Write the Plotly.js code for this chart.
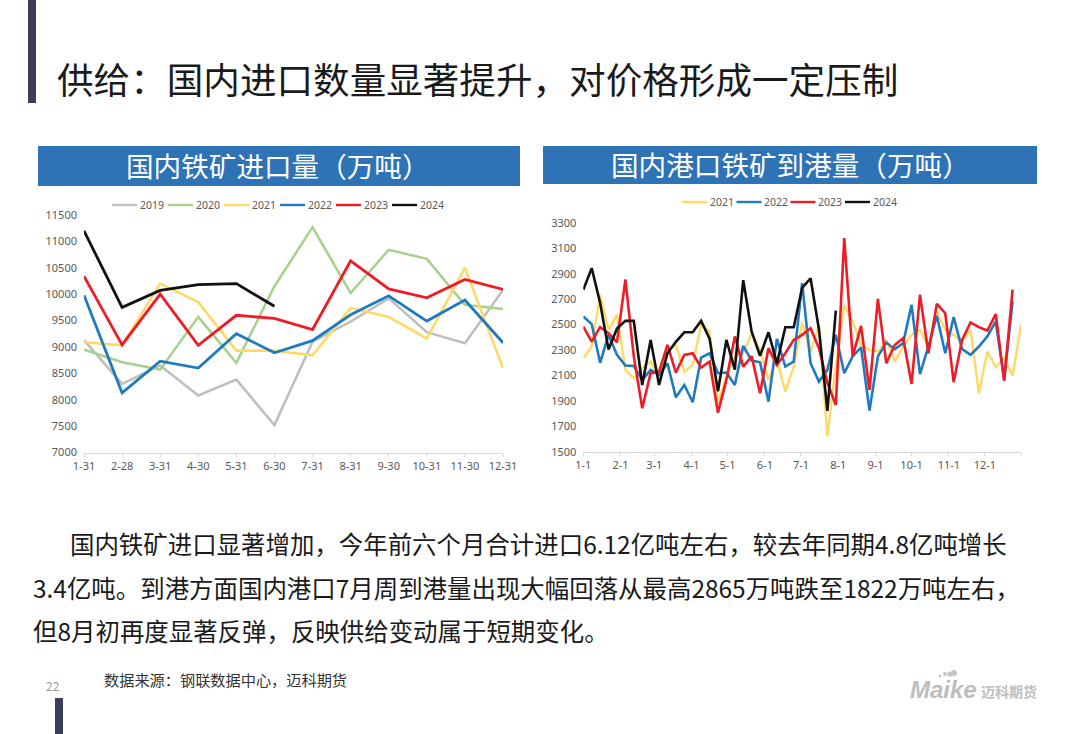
<!DOCTYPE html>
<html><head><meta charset="utf-8">
<script src="https://cdn.plot.ly/plotly-3.0.1.min.js"></script>
<style>html,body{margin:0;padding:0;background:#fff}#c{width:1080px;height:734px}</style>
</head><body><div id="c"></div>
<script>
// ---------- left chart: monthly imports ----------
const monthLabels = ['1-31','2-28','3-31','4-30','5-31','6-30','7-31','8-31','9-30','10-31','11-30','12-31'];
const imp2019 = [9130,8300,8650,8080,8380,7520,9100,9480,9920,9280,9070,10080];
const imp2020 = [8950,8710,8570,9570,8700,10150,11270,10020,10840,10670,9800,9720];
const imp2021 = [9090,9030,10200,9850,8930,8930,8840,9740,9570,9160,10500,8600];
const imp2022 = [9980,8130,8730,8600,9250,8890,9120,9610,9970,9490,9890,9080];
const imp2023 = [10340,9040,10000,9030,9600,9540,9330,10630,10100,9930,10280,10090];
const imp2024 = [11200,9750,10070,10180,10200,9770];
// ---------- right chart: weekly arrivals ----------
const arr2021 = [2236,2328,2735,2460,2577,2144,2078,2157,2210,2078,2300,2340,2130,2183,2499,2446,1880,2090,2250,2275,2433,2300,2065,2223,1973,2170,2512,2288,2499,1623,2170,2656,2525,2340,2300,2288,2380,2210,2328,2420,2459,2328,2604,2459,2420,2367,2459,1960,2288,2165,2236,2097,2499];
const arr2022 = [2564,2504,2200,2420,2262,2178,2175,2065,2144,2105,2196,1928,2025,1889,2241,2275,2118,2123,2025,2333,2217,2204,1894,2388,2170,2210,2827,2196,2052,2144,2420,2118,2250,2322,1823,2250,2359,2307,2354,2656,2110,2328,2570,2275,2559,2307,2262,2328,2407,2525,2065,2683];
const arr2023 = [2485,2367,2480,2433,2360,2855,2250,1842,2118,2130,2340,2123,2262,2275,2162,2210,1807,2065,2407,2170,2250,1960,2315,2183,2275,2380,2420,2472,2315,2040,1868,3182,2250,2490,1986,2703,2196,2340,2393,2033,2735,2275,2664,2590,2047,2380,2517,2480,2454,2583,2057,2775];
const arr2024 = [2775,2945,2670,2305,2470,2530,2530,2025,2380,2025,2275,2365,2440,2440,2530,2390,1975,2380,2145,2850,2445,2255,2440,2195,2480,2480,2790,2865,2460,1822,2610];
const weekDates = arr2021.map((_, i) => new Date(Date.UTC(2021, 0, 1 + 7 * i)).toISOString().slice(0, 10));
const weekTickVals = ['2021-01-01','2021-02-01','2021-03-01','2021-04-01','2021-05-01','2021-06-01','2021-07-01','2021-08-01','2021-09-01','2021-10-01','2021-11-01','2021-12-01','2021-12-31'];
const weekTickText = ['1-1','2-1','3-1','4-1','5-1','6-1','7-1','8-1','9-1','10-1','11-1','12-1',''];

const colors = {y2019:'#BFBFBF', y2020:'#A9D18E', y2021:'#FFD966', y2022:'#1F7ABF', y2023:'#EE1C25', y2024:'#111111'};
const W = 1080, H = 734;
const px = v => v / W, py = v => 1 - v / H;
const cjk = '"Noto Sans CJK SC","Noto Sans",sans-serif';

function line(x, y, name, col, xa, ya, w) {
  return {x, y, name, type:'scatter', mode:'lines', xaxis:xa, yaxis:ya, showlegend:false,
          line:{color:col, width:w, shape:'linear'}, hoverinfo:'skip'};
}
const traces = [
  line(monthLabels, imp2019, '2019', colors.y2019, 'x', 'y', 2.6),
  line(monthLabels, imp2020, '2020', colors.y2020, 'x', 'y', 2.6),
  line(monthLabels, imp2021, '2021', colors.y2021, 'x', 'y', 2.6),
  line(monthLabels, imp2022, '2022', colors.y2022, 'x', 'y', 2.8),
  line(monthLabels, imp2023, '2023', colors.y2023, 'x', 'y', 2.8),
  line(monthLabels, imp2024, '2024', colors.y2024, 'x', 'y', 2.8),
  line(weekDates, arr2021, '2021', colors.y2021, 'x2', 'y2', 2.4),
  line(weekDates, arr2022, '2022', colors.y2022, 'x2', 'y2', 2.6),
  line(weekDates, arr2023, '2023', colors.y2023, 'x2', 'y2', 2.6),
  line(weekDates, arr2024, '2024', colors.y2024, 'x2', 'y2', 2.6)
];

const tickFont = {family:'"Noto Sans",sans-serif', size:11, color:'#595959'};
const xCommon = {showgrid:false, zeroline:false, showline:true, linecolor:'#D9D9D9', linewidth:1,
                 ticks:'outside', ticklen:3, tickcolor:'#D9D9D9', tickfont:tickFont, tickangle:0};
const yCommon = {showgrid:false, zeroline:false, showline:false, ticks:'', tickfont:tickFont, tickformat:'d', ticklabelstandoff:6};

function text(x, y, t, size, color, anchor, extra) {
  return Object.assign({xref:'paper', yref:'paper', x:px(x), y:py(y), text:t, showarrow:false,
    xanchor:anchor || 'left', yanchor:'middle', font:{family:cjk, size, color}, align:'left'}, extra || {});
}
function rect(x0, y0, x1, y1, col) {
  return {type:'rect', xref:'paper', yref:'paper', x0:px(x0), x1:px(x1), y0:py(y0), y1:py(y1),
          fillcolor:col, line:{width:0}, layer:'below'};
}
function dot(cx, cy, r, col) {
  return {type:'circle', xref:'paper', yref:'paper', x0:px(cx-r), x1:px(cx+r), y0:py(cy+r), y1:py(cy-r),
          fillcolor:col, line:{width:0}, layer:'below'};
}
// compact legend keys: the reference's keys are shorter than Plotly's 30px minimum
const legendShapes = [], legendTexts = [];
function key(x0, y, name, col, w) {
  legendShapes.push({type:'line', xref:'paper', yref:'paper', x0:px(x0), x1:px(x0+25), y0:py(y), y1:py(y),
                     line:{color:col, width:w}});
  legendTexts.push(text(x0+25.5, y, name, 10.5, '#595959', 'left', {font:{family:'"Noto Sans",sans-serif', size:10.5, color:'#595959'}}));
}
[['2019',colors.y2019,112],['2020',colors.y2020,168],['2021',colors.y2021,224],['2022',colors.y2022,280],['2023',colors.y2023,336],['2024',colors.y2024,392]]
  .forEach(k => key(k[2], 205, k[0], k[1], 2.4));
[['2021',colors.y2021,682],['2022',colors.y2022,736.5],['2023',colors.y2023,790.5],['2024',colors.y2024,845]]
  .forEach(k => key(k[2], 202, k[0], k[1], 2.4));

const layout = {
  width:W, height:H, margin:{l:0,r:0,t:0,b:0}, paper_bgcolor:'#fff', plot_bgcolor:'rgba(0,0,0,0)', showlegend:false,
  xaxis:Object.assign({}, xCommon, {domain:[px(84), px(503)], anchor:'y', type:'category', range:[0,11],
        tickmode:'array', tickvals:monthLabels, ticktext:monthLabels}),
  yaxis:Object.assign({}, yCommon, {domain:[py(452.5), py(215)], anchor:'x', range:[7000,11500], dtick:500, tick0:7000}),
  xaxis2:Object.assign({}, xCommon, {domain:[px(583.3), px(1021)], anchor:'y2', type:'date',
        range:['2021-01-01','2021-12-31'], tickmode:'array', tickvals:weekTickVals, ticktext:weekTickText}),
  yaxis2:Object.assign({}, yCommon, {domain:[py(451.7), py(223)], anchor:'x2', range:[1500,3300], dtick:200, tick0:1500}),
  shapes:[
    rect(28, 0, 36, 103, '#3B3F5C'),
    rect(55, 698, 63, 734, '#3B3F5C'),
    rect(38, 146, 520, 186, '#2F73B7'),
    rect(543, 146, 1037, 184, '#2F73B7'),
    dot(940, 676, 1.5, '#C4C4C4'), dot(945, 674, 2, '#C4C4C4'), dot(950, 674, 2.6, '#C4C4C4'), dot(954, 673, 3, '#C4C4C4')
  ].concat(legendShapes),
  annotations:[
    text(55, 79, '供给：国内进口数量显著提升，对价格形成一定压制', 36.6, '#1a1a1a'),
    text(278, 165, '国内铁矿进口量（万吨）', 27.6, '#fff', 'center'),
    text(790, 164, '国内港口铁矿到港量（万吨）', 27.6, '#fff', 'center'),
    text(68, 543, '国内铁矿进口显著增加，今年前六个月合计进口6.12亿吨左右，较去年同期4.8亿吨增长', 24.45, '#1a1a1a'),
    text(31, 587, '3.4亿吨。到港方面国内港口7月周到港量出现大幅回落从最高2865万吨跌至1822万吨左右，', 24.45, '#1a1a1a'),
    text(31, 630, '但8月初再度显著反弹，反映供给变动属于短期变化。', 24.45, '#1a1a1a'),
    text(102, 679, '数据来源：钢联数据中心，迈科期货', 15.2, '#333'),
    text(44, 685, '22', 12, '#999'),
    text(908, 689, '<b><i>Maike</i></b>', 24, '#C4C4C4', 'left', {font:{family:'"Liberation Sans",sans-serif', size:24, color:'#BDBDBD'}}),
    text(979, 691, '<b>迈科期货</b>', 14, '#BDBDBD')
  ].concat(legendTexts)
};
Plotly.newPlot('c', traces, layout, {displayModeBar:false, staticPlot:true});
</script>
</body></html>
